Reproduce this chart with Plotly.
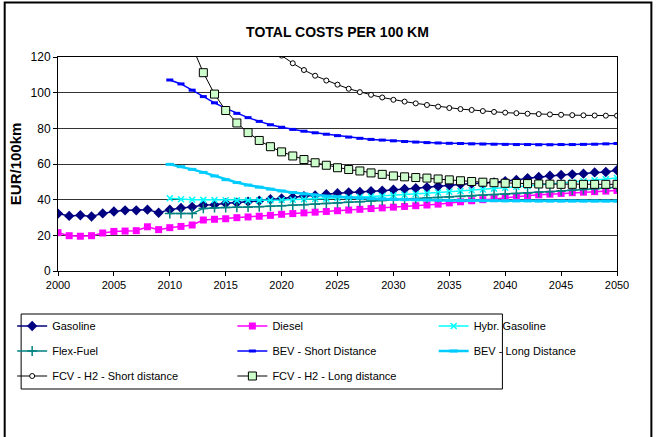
import plotly.graph_objects as go

years = list(range(2000, 2051))
years_2010 = list(range(2010, 2051))
years_fcv_short = list(range(2019, 2051))
years_fcv_long = list(range(2012, 2051))

gasoline = [32.2, 30.9, 31.3, 30.6, 32.3, 33.4, 34.0, 34.0, 34.4, 32.7,
            34.4, 35.3, 35.9, 37.0, 37.2, 38.0, 38.3, 38.9, 39.4, 40.2,
            40.7, 41.3, 42.0, 42.4, 43.0, 43.6, 44.1, 44.3, 44.7, 45.0,
            45.6, 46.0, 46.4, 46.9, 47.5, 48.1, 48.6, 49.0, 49.2, 49.7,
            50.3, 51.0, 52.0, 52.7, 53.4, 53.8, 54.2, 54.6, 55.3, 55.5, 56.5]
diesel = [21.5, 19.8, 19.5, 19.8, 21.3, 22.2, 22.4, 22.6, 24.8, 23.2,
          24.3, 25.0, 25.8, 28.6, 29.0, 29.3, 29.9, 30.3, 30.7, 31.2,
          31.8, 32.2, 32.6, 33.0, 33.4, 33.8, 34.2, 34.6, 35.0, 35.4,
          35.8, 36.2, 36.6, 37.0, 37.5, 38.2, 38.8, 39.4, 40.0, 40.6,
          41.2, 41.7, 42.2, 42.7, 43.1, 43.5, 43.9, 44.2, 44.5, 44.8, 45.2]
hybr_gasoline = [40.8, 40.2, 40.0, 39.9, 39.8, 39.7, 39.6, 39.6, 39.6, 39.7,
                 39.8, 40.0, 40.2, 40.4, 40.6, 40.9, 41.2, 41.5, 41.8, 42.1,
                 42.4, 42.8, 43.2, 43.6, 44.0, 44.4, 44.8, 45.3, 45.7, 46.2,
                 46.7, 47.2, 47.7, 48.2, 48.7, 49.2, 49.8, 50.3, 50.9, 51.5, 52.1]
flex_fuel = [32.2, 32.2, 32.2, 35.1, 35.5, 35.6, 35.7, 35.8, 36.0, 36.3,
             36.6, 36.9, 37.2, 37.5, 37.9, 38.2, 38.5, 38.9, 39.2, 39.6,
             40.0, 40.3, 40.6, 40.9, 41.2, 41.5, 41.8, 42.1, 42.5, 42.8,
             43.1, 43.5, 43.8, 44.2, 44.5, 44.9, 45.3, 45.7, 46.1, 46.5, 47.0]
bev_short = [107.1, 104.9, 101.4, 97.8, 94.3, 91.2, 88.4, 86.0, 83.9, 82.0,
             80.6, 79.4, 78.4, 77.5, 76.7, 75.9, 75.1, 74.4, 73.8, 73.4,
             73.0, 72.6, 72.3, 72.0, 71.8, 71.6, 71.5, 71.3, 71.2, 71.1,
             71.0, 70.9, 70.9, 70.8, 70.8, 70.9, 70.9, 71.0, 71.1, 71.3, 71.5]
bev_long = [59.8, 58.5, 57.0, 55.3, 53.3, 51.2, 49.6, 48.2, 47.0, 45.9,
            44.9, 44.0, 43.2, 42.6, 42.0, 41.6, 41.2, 40.9, 40.6, 40.4,
            40.2, 40.0, 39.9, 39.8, 39.7, 39.6, 39.5, 39.5, 39.4, 39.4,
            39.3, 39.3, 39.3, 39.2, 39.2, 39.2, 39.2, 39.2, 39.2, 39.2, 39.2]
fcv_short = [126.5, 120.8, 116.5, 112.7, 109.5, 106.8, 104.5, 102.2, 100.3, 98.8,
             97.3, 96.0, 95.0, 94.0, 93.1, 92.2, 91.4, 90.8, 90.3, 89.7,
             89.2, 88.8, 88.5, 88.2, 88.0, 87.8, 87.6, 87.4, 87.3, 87.2,
             87.1, 87.1]
fcv_long = [126.0, 111.2, 99.2, 90.0, 83.0, 77.6, 73.2, 69.7, 66.8, 64.5,
            62.5, 60.7, 59.3, 57.9, 56.9, 56.1, 55.0, 54.2, 53.3, 52.8,
            52.4, 52.1, 51.6, 51.1, 50.6, 50.2, 49.8, 49.5, 49.2, 49.1,
            49.0, 48.8, 48.7, 48.6, 48.6, 48.6, 48.6, 48.6, 48.6]

y_ticks = [0, 20, 40, 60, 80, 100, 120]
x_ticks = list(range(2000, 2051, 5))

FONT = "Liberation Sans, Arial, sans-serif"

W, H = 656, 437
L, R, T, B = 56, 617, 57, 271


def px_x(p):
    return (p - L) / (R - L)


def px_y(p):
    return (B - p) / (B - T)


fig = go.Figure()

series = [
    ("Gasoline", years, gasoline, dict(color="#000080", width=1.5),
     dict(symbol="diamond", size=8, color="#000080"), "legend", 10, 326),
    ("Diesel", years, diesel, dict(color="#FF00FF", width=1.5),
     dict(symbol="square", size=7, color="#FF00FF"), "legend2", 231, 326),
    ("Hybr. Gasoline", years_2010, hybr_gasoline, dict(color="#00FFFF", width=1.5),
     dict(symbol="x-thin", size=6, color="#00FFFF", line=dict(color="#00FFFF", width=1.5)), "legend3", 433, 326),
    ("Flex-Fuel", years_2010, flex_fuel, dict(color="#008080", width=1.5),
     dict(symbol="cross-thin", size=7, color="#008080", line=dict(color="#008080", width=1.5)), "legend4", 10, 351),
    ("BEV - Short Distance", years_2010, bev_short, dict(color="#0000FF", width=1.5),
     dict(symbol="line-ew", size=5, color="#0000FF", line=dict(color="#0000FF", width=3)), "legend5", 231, 351),
    ("BEV - Long Distance", years_2010, bev_long, dict(color="#00CCFF", width=2.5),
     dict(symbol="line-ew", size=6, color="#00CCFF", line=dict(color="#00CCFF", width=3)), "legend6", 433, 351),
    ("FCV - H2 - Short distance", years_fcv_short, fcv_short, dict(color="#000000", width=1),
     dict(symbol="circle", size=5, color="#FFFFFF", line=dict(color="#000000", width=1)), "legend7", 10, 376),
    ("FCV - H2 - Long distance", years_fcv_long, fcv_long, dict(color="#000000", width=1),
     dict(symbol="square", size=8, color="#CCFFCC", line=dict(color="#000000", width=1)), "legend8", 231, 376),
]

legend_layouts = {}
for name, xs, ys, line, marker, lg, lx, ly in series:
    fig.add_trace(go.Scatter(x=xs, y=ys, name=name, mode="lines+markers",
                             line=line, marker=marker, legend=lg))
    legend_layouts[lg] = dict(
        x=px_x(lx), y=px_y(ly), xanchor="left", yanchor="middle",
        bgcolor="rgba(0,0,0,0)", borderwidth=0,
        font=dict(family=FONT, size=11, color="#000000"),
        orientation="h",
    )

fig.update_layout(**legend_layouts)

fig.update_layout(
    width=W, height=H,
    margin=dict(l=L, r=W - R, t=T, b=H - B, pad=0),
    paper_bgcolor="#FFFFFF", plot_bgcolor="#FFFFFF",
    font=dict(family=FONT, size=12, color="#000000"),
    showlegend=True,
    title=dict(text="<b>TOTAL COSTS PER 100 KM</b>", x=0.5, xref="paper",
               xanchor="center", y=1 - 32 / H, yref="container", yanchor="middle",
               font=dict(family=FONT, size=14, color="#000000")),
    xaxis=dict(range=[2000, 2050], tickvals=x_ticks, ticks="outside", ticklen=4,
               tickcolor="#000000", showline=True, linecolor="#000000", linewidth=1,
               mirror=True, showgrid=False, zeroline=False,
               tickfont=dict(family=FONT, size=11, color="#000000")),
    yaxis=dict(range=[0, 120], tickvals=y_ticks, ticks="outside", ticklen=4,
               tickcolor="#000000", showline=True, linecolor="#000000", linewidth=1,
               mirror=True, showgrid=True, gridcolor="#333333", gridwidth=1,
               zeroline=False,
               tickfont=dict(family=FONT, size=12, color="#000000")),
    annotations=[dict(text="<b>EUR/100km</b>", x=px_x(13), y=0.5, xref="paper",
                      yref="paper", xanchor="center", yanchor="middle",
                      textangle=-90, showarrow=False,
                      font=dict(family=FONT, size=15, color="#000000"))],
    shapes=[
        dict(type="rect", xref="paper", yref="paper",
             x0=px_x(19), x1=px_x(502), y0=px_y(314), y1=px_y(389),
             line=dict(color="#000000", width=1)),
        dict(type="rect", xref="paper", yref="paper",
             x0=px_x(2.5), x1=px_x(651.5), y0=px_y(2.5), y1=px_y(445),
             line=dict(color="#000000", width=2)),
    ],
)

fig.write_html(
    "out.html",
    config={"displayModeBar": False},
    post_script="document.body.style.margin='0';document.body.style.overflow='hidden';",
)
